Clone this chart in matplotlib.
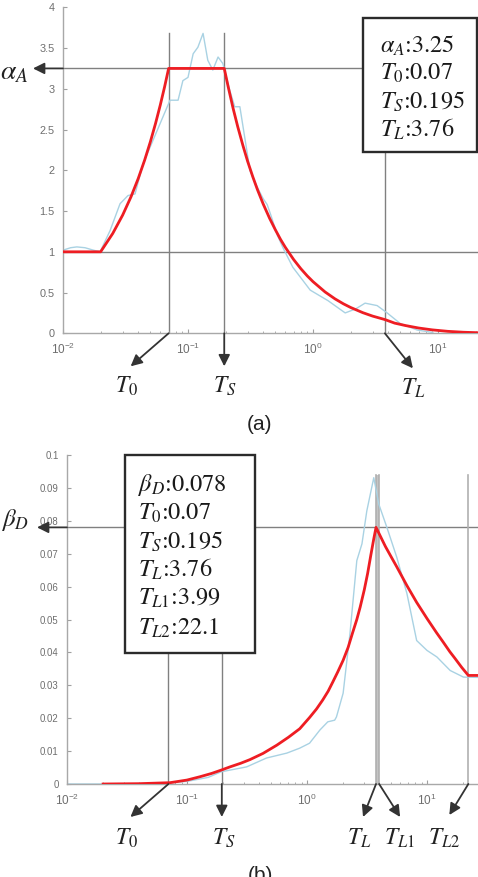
import matplotlib
matplotlib.use("Agg")
import matplotlib.pyplot as plt
import matplotlib.patches as patches
import matplotlib.transforms as mtransforms
from matplotlib.ticker import FixedLocator, FormatStrFormatter, LogLocator, NullFormatter

plt.rcParams["font.family"] = ["Liberation Sans", "DejaVu Sans"]
plt.rcParams["mathtext.fontset"] = "stix"

# ---- panel (a): acceleration spectrum ----
a_params = {"alpha_A": 3.25, "T0": 0.07, "TS": 0.195, "TL": 3.76}
a_red_T = [0.01, 0.02, 0.025, 0.03, 0.035, 0.04, 0.045, 0.05, 0.055, 0.06, 0.065, 0.07,
           0.195, 0.21, 0.23, 0.25, 0.275, 0.3, 0.33, 0.36, 0.4, 0.45, 0.5, 0.55, 0.6, 0.7,
           0.8, 0.9, 1.0, 1.25, 1.5, 1.75, 2.0, 2.5, 3.0, 3.76, 4.5, 5.5, 7.0, 9.0, 12.0,
           16.0, 21.0]
a_red_v = [1.0, 1.0, 1.225, 1.45, 1.675, 1.9, 2.125, 2.35, 2.575, 2.8, 3.025, 3.25,
           3.25, 3.02, 2.755, 2.535, 2.305, 2.11, 1.92, 1.76, 1.585, 1.41, 1.27, 1.152, 1.056, 0.905,
           0.792, 0.704, 0.634, 0.507, 0.4225, 0.362, 0.317, 0.2535, 0.211, 0.1686, 0.125, 0.095, 0.065,
           0.042, 0.024, 0.013, 0.007]
a_blue_T = [0.01, 0.0115, 0.0129, 0.015, 0.0175, 0.0198, 0.0238, 0.0286, 0.0331, 0.0377,
            0.0437, 0.0597, 0.0718, 0.0833, 0.091, 0.1, 0.11, 0.12, 0.132, 0.144, 0.158,
            0.174, 0.19, 0.216, 0.2365, 0.26, 0.295, 0.313, 0.356, 0.40, 0.43, 0.46, 0.52,
            0.575, 0.69, 0.95, 1.32, 1.81, 2.2, 2.61, 3.26, 3.92, 4.99, 6.82, 9.1]
a_blue_v = [1.02, 1.05, 1.06, 1.05, 1.02, 1.0, 1.26, 1.59, 1.69, 1.71,
            2.08, 2.57, 2.86, 2.86, 3.10, 3.14, 3.43, 3.51, 3.68, 3.35, 3.23,
            3.39, 3.31, 2.98, 2.78, 2.78, 2.25, 2.0, 1.8, 1.65, 1.58, 1.45, 1.2,
            1.05, 0.81, 0.53, 0.40, 0.25, 0.30, 0.37, 0.34, 0.25, 0.12, 0.04, 0.01]
a_yticks = [0, 0.5, 1, 1.5, 2, 2.5, 3, 3.5, 4]

# ---- panel (b): displacement spectrum ----
b_params = {"beta_D": 0.078, "T0": 0.07, "TS": 0.195, "TL": 3.76, "TL1": 3.99, "TL2": 22.1}
b_red_T = [0.02, 0.04, 0.0722, 0.1, 0.128, 0.16, 0.192, 0.228, 0.28, 0.334, 0.43, 0.56,
           0.7, 0.87, 1.05, 1.2, 1.35, 1.5, 1.64, 1.8, 2.0, 2.2, 2.4, 2.6, 2.77, 3.0,
           3.2, 3.4, 3.6, 3.76, 4.0, 4.5, 5.0, 5.6, 6.8, 8.2, 10.0, 12.0, 13.6, 15.5,
           17.0, 19.5, 22.1, 26.6]
b_red_v = [0.0, 0.0001, 0.0004, 0.0012, 0.0022, 0.0032, 0.0042, 0.0052, 0.0063, 0.0074, 0.0093, 0.0118,
           0.0142, 0.0168, 0.0202, 0.0228, 0.0255, 0.0282, 0.031, 0.034, 0.0376, 0.0415, 0.046, 0.050, 0.0537, 0.059,
           0.064, 0.0695, 0.0745, 0.078, 0.0760, 0.0722, 0.0692, 0.0660, 0.0603, 0.0552, 0.0503, 0.0460, 0.0432, 0.0402,
           0.0383, 0.0354, 0.033, 0.033]
b_blue_T = [0.01, 0.03, 0.05, 0.07, 0.1, 0.15, 0.192, 0.25, 0.314, 0.46, 0.68, 0.87, 1.05,
            1.28, 1.49, 1.70, 1.76, 2.0, 2.28, 2.60, 2.87, 3.15, 3.6, 3.97, 4.63, 5.6, 6.8,
            8.2, 10.0, 12.1, 15.6, 20.1, 26.6]
b_blue_v = [0.0, 0.0, 0.0001, 0.0003, 0.0008, 0.002, 0.0037, 0.0045, 0.0052, 0.0079, 0.0094, 0.0109, 0.0124,
            0.0164, 0.0189, 0.0194, 0.0204, 0.0276, 0.0457, 0.0679, 0.073, 0.083, 0.0931, 0.085, 0.078, 0.0689, 0.0579,
            0.0436, 0.0406, 0.0386, 0.0345, 0.0325, 0.0324]
b_yticks = [0, 0.01, 0.02, 0.03, 0.04, 0.05, 0.06, 0.07, 0.08, 0.09, 0.1]

W, H = 478, 877
RED = "#ee1d23"
BLUE = "#a9d2e3"
GUIDE = "#808080"
ARROW = "#333333"

fig = plt.figure(figsize=(W / 100, H / 100), dpi=100)


def fx(px):
    return px / W


def fy(py):
    return 1 - py / H


def style_axes(ax, yticks, xmax, ymax, ysize):
    ax.set_xscale("log")
    ax.set_xlim(0.01, xmax)
    ax.set_ylim(0, ymax)
    ax.yaxis.set_major_locator(FixedLocator(yticks))
    ax.yaxis.set_major_formatter(FormatStrFormatter("%g"))
    ax.xaxis.set_major_locator(FixedLocator([0.01, 0.1, 1, 10]))
    ax.xaxis.set_minor_locator(LogLocator(base=10, subs=range(2, 10)))
    ax.xaxis.set_minor_formatter(NullFormatter())
    for s in ("top", "right"):
        ax.spines[s].set_visible(False)
    for s in ("left", "bottom"):
        ax.spines[s].set_color("#a8a8a8")
        ax.spines[s].set_linewidth(1.0)
    ax.tick_params(which="both", direction="in", color="#a0a0a0", labelcolor="#6e6e6e")
    ax.tick_params(axis="y", labelsize=ysize)
    ax.tick_params(axis="x", labelsize=8.5)
    ax.tick_params(which="major", length=3, pad=6)
    ax.tick_params(which="minor", length=1.8)
    ax.patch.set_alpha(0)


def arrow(ax, x0, y0, dx, dy):
    tip = mtransforms.offset_copy(ax.transData, fig=fig, x=dx, y=dy, units="dots")
    ax.annotate("", xy=(x0, y0), xycoords=tip, xytext=(x0, y0), textcoords="data",
                arrowprops=dict(arrowstyle="-|>", color=ARROW, lw=1.3, mutation_scale=17,
                                shrinkA=0, shrinkB=0),
                annotation_clip=False, zorder=6)


def label(px, py, s, size=17):
    fig.text(fx(px), fy(py), s, ha="center", va="center", fontsize=size, color="#222222")


def info_box(x0, y0, x1, y1, lines, tx, baselines):
    rect = patches.Rectangle((fx(x0), fy(y1)), fx(x1) - fx(x0), fy(y0) - fy(y1),
                             transform=fig.transFigure, facecolor="white",
                             edgecolor="#2b2b2b", linewidth=1.7, zorder=10)
    fig.patches.append(rect)
    for s, b in zip(lines, baselines):
        fig.text(fx(tx), fy(b), s, ha="left", va="baseline", fontsize=17.5,
                 family="STIXGeneral", color="#1a1a1a", zorder=11)


# ---------- (a) ----------
ax1 = fig.add_axes([fx(63), fy(333.3), fx(478) - fx(63), fy(7.3) - fy(333.3)])
style_axes(ax1, a_yticks, 20.9, 4, 7.8)
ax1.axhline(a_params["alpha_A"], color=GUIDE, lw=1.0, zorder=1)
ax1.axhline(1.0, color=GUIDE, lw=1.0, zorder=1)
for t in (a_params["T0"], a_params["TS"], a_params["TL"]):
    ax1.plot([t, t], [0, 3.68], color=GUIDE, lw=1.0, zorder=1)
ax1.plot(a_blue_T, a_blue_v, color=BLUE, lw=1.0, zorder=2)
ax1.plot(a_red_T, a_red_v, color=RED, lw=2.0, zorder=3)

arrow(ax1, 0.01, a_params["alpha_A"], -30, 0)
arrow(ax1, a_params["T0"], 0, -38, -33)
arrow(ax1, a_params["TS"], 0, 0, -33)
arrow(ax1, a_params["TL"], 0, 28, -35)
label(14, 72, r"$\alpha_A$", size=20)
label(127, 386, r"$T_0$")
label(225, 386, r"$T_S$")
label(413, 388, r"$T_L$")
fig.text(fx(260), fy(425), "(a)", ha="center", va="center", fontsize=15, color="#222222")

info_box(362.7, 18.3, 477.3, 152.3,
         [r"$\alpha_A$:3.25", r"$T_0$:0.07", r"$T_S$:0.195", r"$T_L$:3.76"],
         380, [52.3, 80, 108.3, 136.7])

# ---------- (b) ----------
ax2 = fig.add_axes([fx(67), fy(784), fx(478) - fx(67), fy(455) - fy(784)])
style_axes(ax2, b_yticks, 26.6, 0.1, 6.9)
ax2.axhline(b_params["beta_D"], color=GUIDE, lw=1.0, zorder=1)
for t in (b_params["T0"], b_params["TS"]):
    ax2.plot([t, t], [0, 0.094], color=GUIDE, lw=1.0, zorder=1)
ax2.fill_betweenx([0, 0.094], b_params["TL"], b_params["TL1"], color="#c4c4c4", lw=0, zorder=1)
for t in (b_params["TL"], b_params["TL1"], b_params["TL2"]):
    ax2.plot([t, t], [0, 0.094], color="#b0b0b0", lw=1.2, zorder=1)
ax2.plot(b_blue_T, b_blue_v, color=BLUE, lw=1.0, zorder=2)
ax2.plot(b_red_T, b_red_v, color=RED, lw=2.0, zorder=3)

arrow(ax2, 0.01, b_params["beta_D"], -30, 0)
arrow(ax2, b_params["T0"], 0, -38, -33)
arrow(ax2, b_params["TS"], 0, 0, -33)
arrow(ax2, b_params["TL"], 0, -13, -33)
arrow(ax2, b_params["TL1"], 0, 21, -33)
arrow(ax2, b_params["TL2"], 0, -19, -31)
label(15, 520, r"$\beta_D$", size=18)
label(127, 838, r"$T_0$")
label(224, 838, r"$T_S$")
label(359, 838, r"$T_L$")
label(399, 838, r"$T_{L1}$")
label(444, 838, r"$T_{L2}$")
fig.text(fx(260), fy(866), "(b)", ha="center", va="top", fontsize=15, color="#222222")

info_box(125, 455, 255, 653,
         [r"$\beta_D$:0.078", r"$T_0$:0.07", r"$T_S$:0.195", r"$T_L$:3.76",
          r"$T_{L1}$:3.99", r"$T_{L2}$:22.1"],
         138, [490.7, 519.3, 548.3, 576.7, 605, 635])

fig.savefig("out.png", dpi=100)
